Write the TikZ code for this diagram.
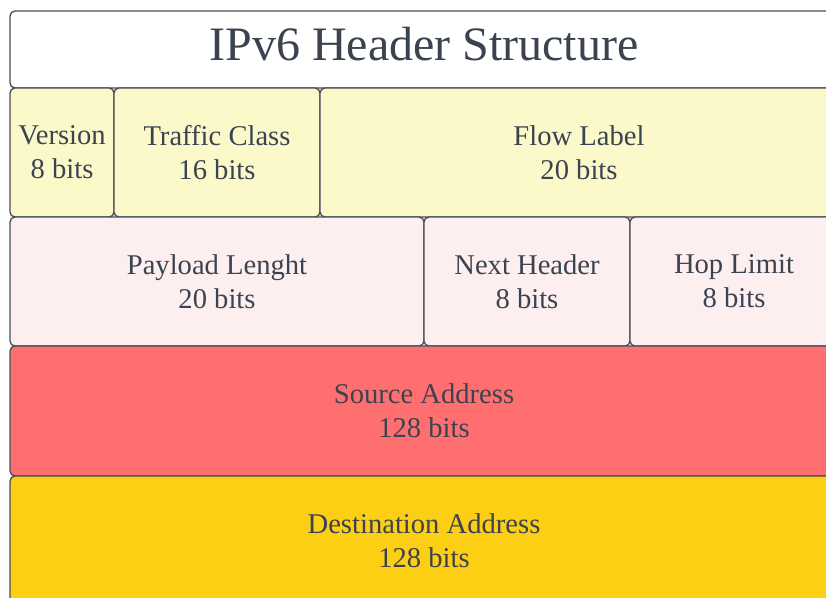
\documentclass[tikz,border=0pt]{standalone}
\usepackage{fontspec}
\setmainfont{Liberation Serif}
\definecolor{txt}{HTML}{3B4350}
\definecolor{edge}{HTML}{474D57}
\definecolor{yel}{HTML}{FBF9CA}
\definecolor{pink}{HTML}{FDEFEF}
\definecolor{redf}{HTML}{FF6F6F}
\definecolor{gold}{HTML}{FCCE14}
\tikzset{
  field/.style={draw=edge, line width=1.3pt, rounded corners=5pt, inner sep=0pt,
    align=center, text=txt, font=\fontsize{28.6}{34}\selectfont},
}
\begin{document}
\begin{tikzpicture}[x=1pt,y=-1pt]
\useasboundingbox (0,0) rectangle (826,597);
\clip (0,0) rectangle (826,597);
\node[field, fill=white, minimum width=828pt, minimum height=77pt] (title) at (424,49.5) {};
\node[text=txt, font=\fontsize{48}{56}\selectfont, inner sep=0pt] (tt) at (424,44.5) {IPv6 Header Structure};
\node[field, fill=yel, minimum width=104pt, minimum height=129pt] (ver) at (62,152.5) {Version\\8 bits};
\node[field, fill=yel, minimum width=206pt, minimum height=129pt] (tc) at (217,152.5) {Traffic Class\\16 bits};
\node[field, fill=yel, minimum width=518pt, minimum height=129pt] (fl) at (579,152.5) {Flow Label\\20 bits};
\node[field, fill=pink, minimum width=414pt, minimum height=129pt] (pl) at (217,281.5) {Payload Lenght\\20 bits};
\node[field, fill=pink, minimum width=206pt, minimum height=129pt] (nh) at (527,281.5) {Next Header\\8 bits};
\node[field, fill=pink, minimum width=208pt, minimum height=129pt] (hl) at (734,281.5) {Hop Limit\\8 bits};
\node[field, fill=redf, minimum width=828pt, minimum height=130pt] (src) at (424,411) {Source Address\\128 bits};
\node[field, fill=gold, minimum width=828pt, minimum height=130pt] (dst) at (424,541) {Destination Address\\128 bits};
\end{tikzpicture}
\end{document}
